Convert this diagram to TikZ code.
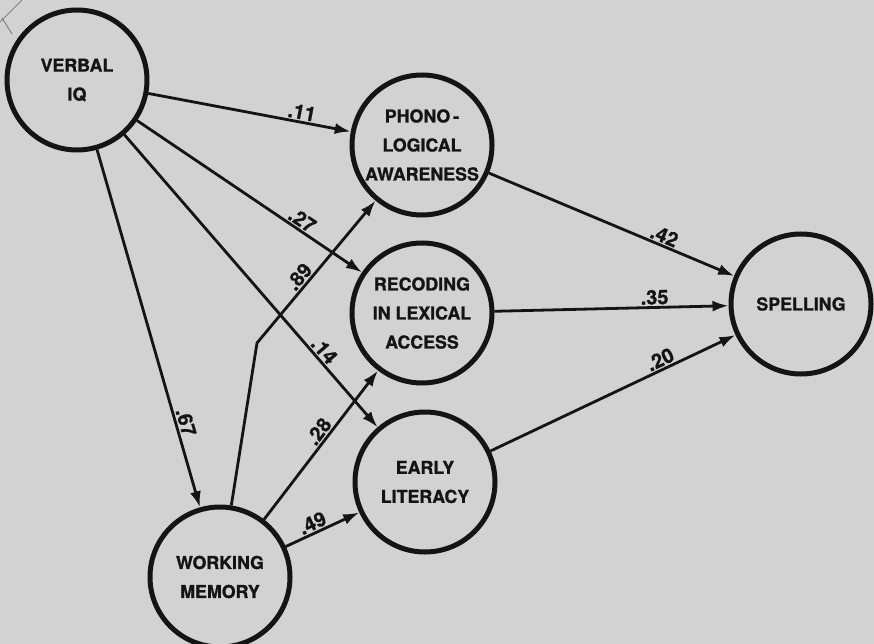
\documentclass[tikz,border=0pt]{standalone}
\usepackage{fontspec}
\setmainfont{TeX Gyre Heros}[BoldFeatures={FakeBold=1.1}]
\usetikzlibrary{arrows.meta}
\definecolor{paper}{RGB}{210,210,210}
\definecolor{ink}{RGB}{20,20,20}
\begin{document}
\begin{tikzpicture}[x=1pt,y=-1pt,
  var/.style={circle,draw=ink,line width=5pt,minimum size=140pt,inner sep=0pt,align=center,
    font=\fontsize{17.8}{29}\selectfont\bfseries,text=ink},
  link/.style={draw=ink,line width=2.8pt,-{Latex[length=16pt,width=11pt]}},
  coef/.style={sloped,above,inner sep=1.5pt,font=\fontsize{20}{20}\selectfont\bfseries,text=ink}]
\fill[paper] (0,0) rectangle (874,644);
\useasboundingbox (0,0) rectangle (874,644);
\draw[gray,line width=1pt] (0,22) -- (22,0) (2,18) -- (12,34);
\node[var] (viq) at (77,80) {VERBAL\\IQ};
\node[var] (pa) at (422,145) {PHONO\,-\\LOGICAL\\AWARENESS};
\node[var] (rec) at (422,313) {RECODING\\IN LEXICAL\\ACCESS};
\node[var] (el) at (425,482) {EARLY\\LITERACY};
\node[var] (wm) at (220,577) {WORKING\\MEMORY};
\node[var] (sp) at (801,304) {SPELLING};
\coordinate (bend) at (257,343);
\draw[link] (viq) -- node[coef,pos=0.75] {.11} (pa);
\draw[link] (viq) -- node[coef,pos=0.71] {.27} (rec);
\draw[link] (viq) -- node[coef,pos=0.76] {.14} (el);
\draw[link] (viq) -- node[coef,pos=0.77] {.67} (wm);
\draw[link] (wm) -- (bend) -- node[coef,pos=0.42] {.89} (pa);
\draw[link] (wm) -- node[coef,pos=0.55] {.28} (rec);
\draw[link] (wm) -- node[coef,pos=0.42] {.49} (el);
\draw[link] (pa) -- node[coef,pos=0.70] {.42} (sp);
\draw[link] (rec) -- node[coef,pos=0.685] {.35} (sp);
\draw[link] (el) -- node[coef,pos=0.71] {.20} (sp);
\end{tikzpicture}
\end{document}
